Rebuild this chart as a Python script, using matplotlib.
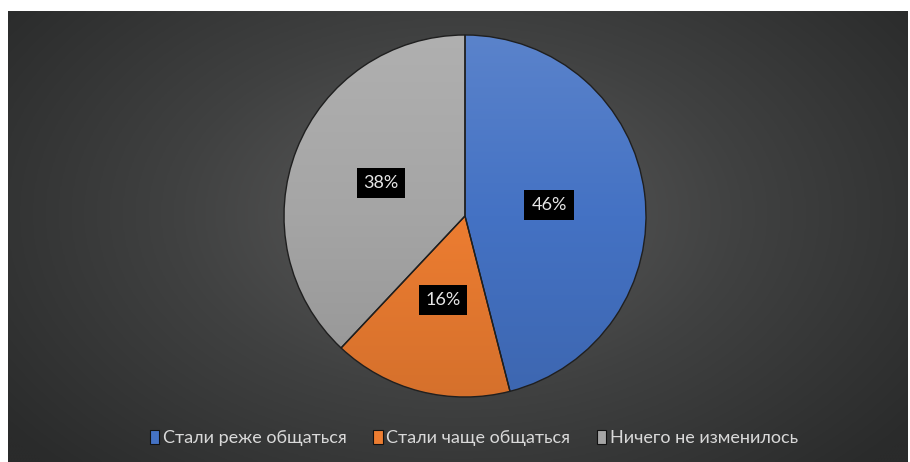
import numpy as np
import matplotlib
matplotlib.use('Agg')
from matplotlib import pyplot as plt
from matplotlib.colors import LinearSegmentedColormap, to_rgb

# Survey answers
categories = ['Стали реже общаться', 'Стали чаще общаться', 'Ничего не изменилось']
shares = [46, 16, 38]
slice_colors = ['#4472C4', '#ED7D31', '#A5A5A5']

plt.rcParams['font.family'] = ['Lato', 'DejaVu Sans']

W, H = 910, 462
fig = plt.figure(figsize=(W / 100, H / 100), dpi=100, facecolor='white')

# dark radial background panel
bg_ax = fig.add_axes([8 / W, 0, 900 / W, 451 / H])
bg_ax.set_axis_off()
yy, xx = np.mgrid[-1:1:300j, -1:1:600j]
rr = np.sqrt((xx * 0.95) ** 2 + ((yy + 0.1) * 0.75) ** 2)
bg_cmap = LinearSegmentedColormap.from_list('bg', ['#5c5c5c', '#404141', '#2a2b2b'])
bg_ax.imshow(rr, cmap=bg_cmap, aspect='auto', vmin=0, vmax=1.2,
             extent=[0, 1, 0, 1], interpolation='bicubic')

# pie
pie_ax = fig.add_axes([(465 - 181) / W, (H - 216 - 181) / H, 362 / W, 362 / H])
wedges, _ = pie_ax.pie(shares, colors=slice_colors, startangle=90, counterclock=False,
                       wedgeprops=dict(edgecolor='#1f1f1f', linewidth=1.0))
pie_ax.set_xlim(-1, 1)
pie_ax.set_ylim(-1, 1)
pie_ax.set_aspect('equal')

# vertical shading on the slices: a little lighter on top, darker at the bottom
t = np.linspace(1, -1, 200)[:, None, None]
for w, c in zip(wedges, slice_colors):
    base = np.array(to_rgb(c))[None, None, :]
    light = base + (1 - base) * 0.12
    dark = base * 0.9
    grad = np.where(t > 0, base + (light - base) * t, base + (base - dark) * t)
    im = pie_ax.imshow(np.clip(grad, 0, 1), extent=[-1, 1, -1, 1], aspect='auto',
                       zorder=w.get_zorder())
    im.set_clip_path(w)
    w.set_facecolor('none')
    w.set_zorder(w.get_zorder() + 0.1)

# percentage labels in black boxes
label_pos = [(549, 205), (443, 300), (381, 183)]
for (px, py), v in zip(label_pos, shares):
    fig.text(px / W, 1 - py / H, f'{v}%', color='#e6e6e6', fontsize=13,
             ha='center', va='center',
             bbox=dict(boxstyle='square,pad=0.38', facecolor='black', edgecolor='none'))

# legend
handles = [plt.Rectangle((0, 0), 1, 1, facecolor=c, edgecolor='#111111', linewidth=0.8)
           for c in slice_colors]
fig.legend(handles, categories, loc='center', bbox_to_anchor=(474 / W, 1 - 438 / H),
           ncol=3, frameon=False, fontsize=13, labelcolor='#d9d9d9',
           handlelength=0.5, handleheight=0.8, handletextpad=0.2, columnspacing=1.5)

fig.savefig('out.png', dpi=100, facecolor='white')
